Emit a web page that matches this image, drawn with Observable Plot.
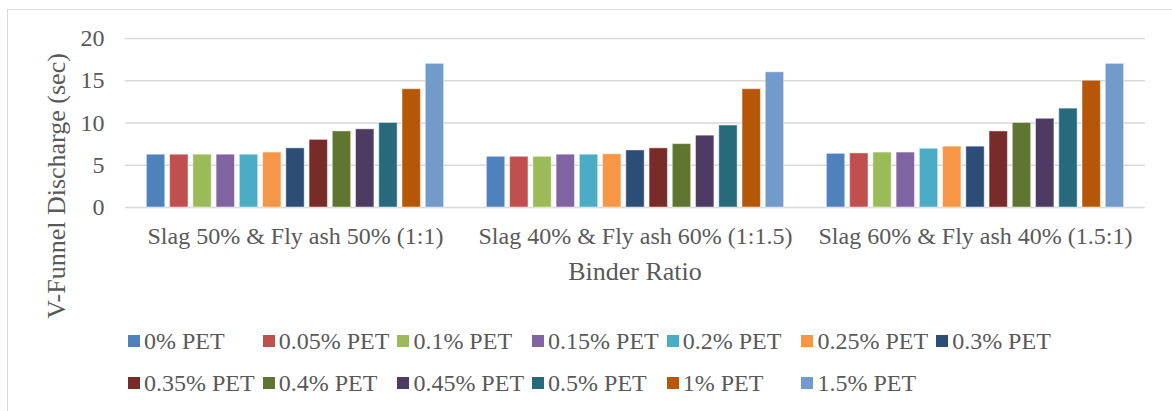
<!DOCTYPE html>
<html>
<head>
<meta charset="utf-8">
<script src="https://cdn.jsdelivr.net/npm/d3@7"></script>
<script src="https://cdn.jsdelivr.net/npm/@observablehq/plot@0.6"></script>
<style>
  html, body { margin: 0; padding: 0; background: #fff; overflow: hidden; }
  #frame { position: relative; width: 1172px; height: 411px; overflow: hidden;
           font-family: "Liberation Serif", "Times New Roman", serif; color: #595959; }
  #box { position: absolute; left: 7px; top: 9px; width: 1190px; height: 430px;
         border: 1.5px solid #d9d9d9; box-sizing: border-box; }
  #chart { position: absolute; left: 0; top: 0; }
  .ytitle { position: absolute; left: 57px; top: 186px; font-size: 26px; white-space: nowrap;
            transform: translate(-50%, -50%) rotate(-90deg); }
  .xtitle { position: absolute; left: 635px; top: 272px; font-size: 26px; white-space: nowrap;
            transform: translate(-50%, -50%); }
  #legend { position: absolute; left: 128px; top: 320px; display: grid;
            grid-template-columns: repeat(7, 134.7px); grid-auto-rows: 42px; font-size: 24px; }
  .item { display: flex; align-items: center; white-space: nowrap; }
  .sw { width: 12px; height: 12px; margin-right: 4px; flex: none; }
</style>
</head>
<body>
<div id="frame">
  <div id="box"></div>
  <div id="chart"></div>
  <div class="ytitle">V-Funnel Discharge (sec)</div>
  <div class="xtitle">Binder Ratio</div>
  <div id="legend"></div>
</div>
<script>
// Binder ratio groups along the x axis
const groups = [
  "Slag 50% & Fly ash 50% (1:1)",
  "Slag 40% & Fly ash 60% (1:1.5)",
  "Slag 60% & Fly ash 40% (1.5:1)"
];

// PET fibre contents (one bar per content in each group)
const series = [
  "0% PET", "0.05% PET", "0.1% PET", "0.15% PET", "0.2% PET", "0.25% PET", "0.3% PET",
  "0.35% PET", "0.4% PET", "0.45% PET", "0.5% PET", "1% PET", "1.5% PET"
];

const colors = [
  "#4F81BD", "#C0504D", "#9BBB59", "#8064A2", "#4BACC6", "#F79646", "#2C4D75",
  "#772C2A", "#5F7530", "#4D3B62", "#276A7C", "#B65708", "#729ACA"
];

// V-funnel discharge time (sec) for each PET content, per binder ratio
const slag50fly50 = [6.25, 6.25, 6.25, 6.25, 6.25, 6.5, 7.0, 8.0, 9.0, 9.25, 10.0, 14.0, 17.0];
const slag40fly60 = [6.0, 6.0, 6.0, 6.25, 6.25, 6.3, 6.75, 7.0, 7.5, 8.5, 9.7, 14.0, 16.0];
const slag60fly40 = [6.35, 6.4, 6.5, 6.5, 6.95, 7.2, 7.2, 9.0, 10.0, 10.5, 11.7, 15.0, 17.0];

const yTicks = [0, 5, 10, 15, 20];

const valuesByGroup = [slag50fly50, slag40fly60, slag60fly40];
const rows = [];
groups.forEach((g, gi) => {
  series.forEach((s, si) => {
    rows.push({group: g, series: s, value: valuesByGroup[gi][si]});
  });
});

const chart = Plot.plot({
  width: 1172,
  height: 300,
  marginTop: 38,
  marginBottom: 93,
  marginLeft: 124,
  marginRight: 26,
  style: {fontFamily: "'Liberation Serif', 'Times New Roman', serif", fontSize: "24px", color: "#595959", background: "transparent"},
  fx: {domain: groups, padding: 0, axis: "bottom", tickSize: 0, tickPadding: 19, label: null},
  x: {domain: series, paddingInner: 0.21, paddingOuter: 0.92, round: false, axis: null},
  y: {domain: [0, 20], ticks: yTicks, tickSize: 0, tickPadding: 21, label: null},
  color: {domain: series, range: colors},
  marks: [
    Plot.ruleY(yTicks, {stroke: "#d9d9d9", strokeWidth: 1.6}),
    Plot.barY(rows, {
      fx: "group", x: "series", y: "value", fill: "series",
      stroke: "white", strokeOpacity: 0.45, strokeWidth: 1
    })
  ]
});
document.getElementById("chart").appendChild(chart);

// Legend laid out in rows of seven entries
const legend = d3.select("#legend");
series.forEach((s, i) => {
  const item = legend.append("div").attr("class", "item");
  item.append("div").attr("class", "sw").style("background", colors[i]);
  item.append("span").text(s);
});
</script>
</body>
</html>
